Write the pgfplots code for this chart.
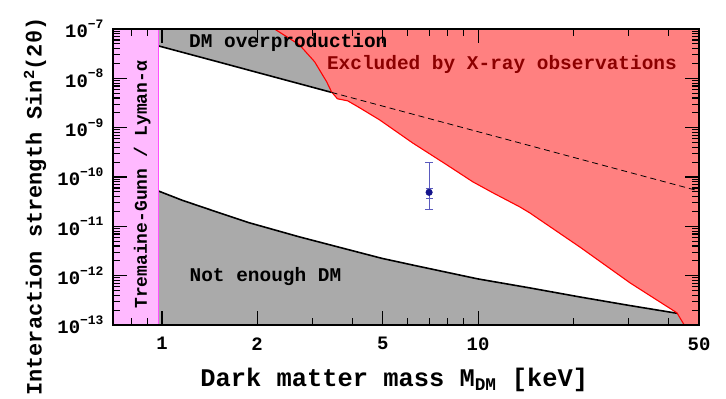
\documentclass[border=0pt]{standalone}
\usepackage{fontspec}
\setmainfont{Liberation Mono}
\usepackage{pgfplots}
\pgfplotsset{compat=1.18}
\definecolor{pinkTG}{RGB}{255,185,255}
\definecolor{magTG}{RGB}{255,80,255}
\definecolor{greyDM}{RGB}{170,170,170}
\definecolor{redX}{RGB}{255,128,128}
\definecolor{darkredX}{RGB}{140,0,0}
\definecolor{navyP}{RGB}{20,20,140}
\definecolor{errblue}{RGB}{90,90,190}
\newcommand{\tp}[1]{10\raisebox{0.5em}{\fontsize{13}{13}\selectfont\bfseries −#1}}
\begin{document}
\begin{tikzpicture}
\begin{axis}[
  xmode=log, ymode=log,
  scale only axis, width=586bp, height=296bp,
  xmin=0.7, xmax=50, ymin=1e-13, ymax=1e-7,
  axis on top,
  axis line style={line width=1.2pt},
  xtick={1,2,5,10,50}, xticklabels={1,2,5,10,50},
  minor xtick={0.8,0.9,3,4,6,7,8,9,20,30,40},
  ytick={1e-13,1e-12,1e-11,1e-10,1e-9,1e-8,1e-7},
  yticklabels={\tp{13},\tp{12},\tp{11},\tp{10},\tp{9},\tp{8},\tp{7}},
  minor ytick={2e-13,3e-13,4e-13,5e-13,6e-13,7e-13,8e-13,9e-13,
               2e-12,3e-12,4e-12,5e-12,6e-12,7e-12,8e-12,9e-12,
               2e-11,3e-11,4e-11,5e-11,6e-11,7e-11,8e-11,9e-11,
               2e-10,3e-10,4e-10,5e-10,6e-10,7e-10,8e-10,9e-10,
               2e-9,3e-9,4e-9,5e-9,6e-9,7e-9,8e-9,9e-9,
               2e-8,3e-8,4e-8,5e-8,6e-8,7e-8,8e-8,9e-8},
  major tick length=14bp, minor tick length=7bp,
  tick align=inside,
  tick style={line width=1.1pt, black},
  every tick label/.append style={font=\fontsize{19}{20}\selectfont\bfseries},
  yticklabel style={xshift=-6bp},
  xticklabel style={yshift=-9bp},
  xlabel={Dark matter mass M\textsubscript{DM} [keV]},
  ylabel={Interaction strength Sin\textsuperscript{2}(2θ)},
  xlabel style={font=\fontsize{25.5}{27}\selectfont\bfseries, at={(axis description cs:0.48,0)}, anchor=center, yshift=-55bp},
  ylabel style={font=\fontsize{22}{23}\selectfont\bfseries, at={(axis description cs:-0.133,0.40)}, anchor=center},
]
% Tremaine-Gunn / Lyman-alpha band
\addplot[fill=pinkTG, draw=none] coordinates {(0.7,1e-13) (0.975,1e-13) (0.975,1e-7) (0.7,1e-7)};
% DM overproduction region
\addplot[fill=greyDM, draw=none] coordinates {
 (0.975,4.54e-8) (1,4.35e-8) (1.5,2.17e-8) (2,1.32e-8) (3,6.57e-9) (3.44,5.19e-9)
 (5,2.73e-9) (10,8.28e-10) (20,2.51e-10) (30,1.25e-10) (50,5.2e-11) (50,1e-7) (0.975,1e-7)};
% Not enough DM region
\addplot[fill=greyDM, draw=none] coordinates {
 (0.975,5.2e-11) (1.16,3.37e-11) (1.486,1.97e-11) (1.89,1.18e-11) (2.72,6.12e-12)
 (3.91,3.34e-12) (4.97,2.24e-12) (6.39,1.58e-12) (8.12,1.14e-12) (9.98,8.61e-13)
 (14.56,5.66e-13) (20.9,3.72e-13) (30.0,2.50e-13) (43.8,1.68e-13) (45,1e-13) (0.975,1e-13)};
% boundary lines
\addplot[black, line width=1.6pt] coordinates {
 (0.975,4.54e-8) (1,4.35e-8) (1.5,2.17e-8) (2,1.32e-8) (3,6.57e-9) (3.44,5.19e-9)};
\addplot[black, line width=1.6pt] coordinates {
 (0.975,5.2e-11) (1.16,3.37e-11) (1.486,1.97e-11) (1.89,1.18e-11) (2.72,6.12e-12)
 (3.91,3.34e-12) (4.97,2.24e-12) (6.39,1.58e-12) (8.12,1.14e-12) (9.98,8.61e-13)
 (14.56,5.66e-13) (20.9,3.72e-13) (30.0,2.50e-13) (43.8,1.68e-13)};
% X-ray exclusion
\addplot[fill=redX, draw=none] coordinates {
 (2.27,1e-7) (2.72,4.8e-8) (3.04,2.17e-8) (3.32,8.5e-9) (3.44,5.3e-9) (3.59,3.85e-9)
 (3.87,3.5e-9) (4.22,2.53e-9) (4.88,1.44e-9) (6.21,4.9e-10) (7.96,1.77e-10) (9.62,8.0e-11)
 (11.13,4.8e-11) (13.55,2.48e-11) (14.58,1.87e-11) (21.0,3.8e-12) (30.3,7.1e-13)
 (42.6,1.76e-13) (44.9,1e-13) (50,1e-13) (50,1e-7)};
\addplot[red, line width=1.1pt] coordinates {
 (2.27,1e-7) (2.72,4.8e-8) (3.04,2.17e-8) (3.32,8.5e-9) (3.44,5.3e-9) (3.59,3.85e-9)
 (3.87,3.5e-9) (4.22,2.53e-9) (4.88,1.44e-9) (6.21,4.9e-10) (7.96,1.77e-10) (9.62,8.0e-11)
 (11.13,4.8e-11) (13.55,2.48e-11) (14.58,1.87e-11) (21.0,3.8e-12) (30.3,7.1e-13)
 (42.6,1.76e-13) (44.9,1e-13)};
% dashed continuation
\addplot[black, line width=0.8pt, dash pattern=on 6bp off 4bp] coordinates {
 (3.44,5.19e-9) (5,2.73e-9) (10,8.28e-10) (20,2.51e-10) (30,1.25e-10) (50,5.2e-11)};
% band edge
\addplot[magTG, line width=1.2pt] coordinates {(0.975,1e-13) (0.975,1e-7)};
% data point
\addplot[only marks, mark=none, error bars/.cd, y dir=both, y explicit,
  error bar style={errblue, line width=1pt},
  error mark=-,
  error mark options={errblue, rotate=90, mark size=4bp, line width=1pt}]
  coordinates {(7.0,4.9e-11) += (0,1.51e-10) -= (0,2.67e-11)};
\addplot[only marks, mark=*, mark size=3.3bp, color=navyP, error bars/.cd, y dir=both, y explicit,
  error bar style={errblue, line width=1pt},
  error mark=-,
  error mark options={errblue, rotate=90, mark size=3.5bp, line width=1pt}]
  coordinates {(7.0,4.9e-11) += (0,1.06e-11) -= (0,1.17e-11)};
% texts
\node[font=\fontsize{19.5}{20}\selectfont\bfseries, black] at (axis cs:2.51,5.27e-8) {DM overproduction};
\node[font=\fontsize{19.5}{20}\selectfont\bfseries, darkredX] at (axis cs:11.9,1.89e-8) {Excluded by X-ray observations};
\node[font=\fontsize{19.5}{20}\selectfont\bfseries, black] at (axis cs:2.125,9.46e-13) {Not enough DM};
\node[font=\fontsize{18}{19}\selectfont\bfseries, black, rotate=90] at (axis cs:0.866,6.95e-11) {Tremaine-Gunn / Lyman-α};
\coordinate (sw) at (rel axis cs:0,0);
\coordinate (ne) at (rel axis cs:1,1);
\end{axis}
\pgfresetboundingbox
\path ([shift={(-113bp,-74bp)}]sw) rectangle ([shift={(27bp,29bp)}]ne);
\end{tikzpicture}
\end{document}
